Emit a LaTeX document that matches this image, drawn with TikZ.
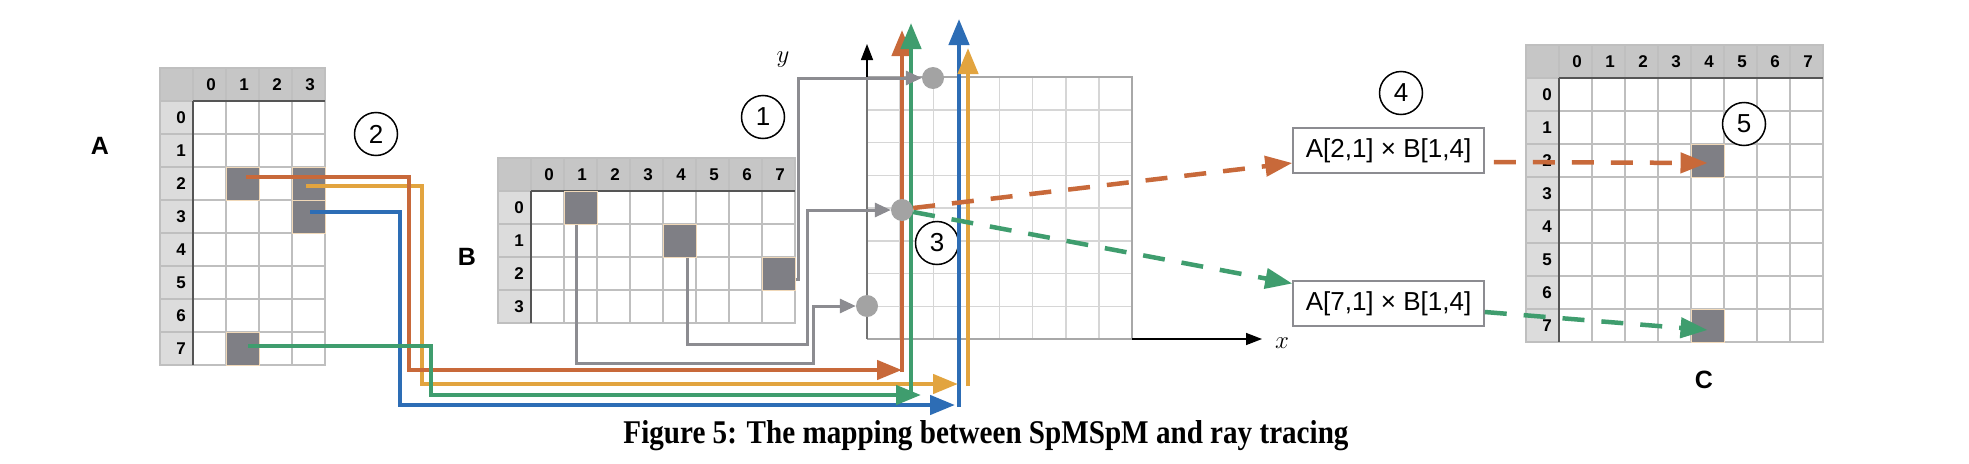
\documentclass[tikz,border=0pt]{standalone}
\usepackage{fontspec}
\usepackage{graphicx}
\setsansfont{Liberation Sans}
\newfontfamily\capfont{Liberation Serif}
\usetikzlibrary{arrows.meta,calc}

\definecolor{corange}{HTML}{C8693A}
\definecolor{cyellow}{HTML}{E2A43F}
\definecolor{cgreen}{HTML}{3F9D6E}
\definecolor{cblue}{HTML}{2D6DB5}
\definecolor{cgray}{HTML}{8C8C91}
\definecolor{dotgray}{HTML}{A3A3A3}
\definecolor{cellgray}{HTML}{7F7F85}
\definecolor{celledge}{HTML}{F0D8B8}
\definecolor{gridcol}{HTML}{BFBFBF}
\definecolor{hdrrow}{HTML}{C6C6C6}
\definecolor{hdrcol}{HTML}{DCDCDC}
\definecolor{sepcol}{HTML}{555555}
\definecolor{rtgrid}{HTML}{D6D6D6}
\definecolor{rtborder}{HTML}{A8A8A8}

\tikzset{
  gridln/.style={draw=gridcol,line width=1.5pt},
  sepln/.style={draw=sepcol,line width=2pt},
  hdrtxt/.style={font=\sffamily\bfseries\fontsize{17}{20}\selectfont,inner sep=0pt},
  nzcell/.style={rectangle,fill=cellgray,draw=celledge,line width=1pt,minimum size=33pt,inner sep=0pt},
  rtgridln/.style={draw=rtgrid,line width=1.5pt},
  rtborderln/.style={draw=rtborder,line width=2pt},
  axisln/.style={draw=black,line width=1.5pt,-{Triangle[length=16pt,width=12pt]}},
  axlabel/.style={font=\fontsize{27}{31}\selectfont,inner sep=0pt},
  dotnode/.style={circle,fill=dotgray,minimum size=22pt,inner sep=0pt},
  numcirc/.style={circle,draw=black,line width=1.5pt,fill=white,minimum size=43pt,inner sep=0pt,font=\sffamily\fontsize{26}{30}\selectfont},
  raylink/.style={line width=4.5pt,-{Triangle[length=25pt,width=19pt]}},
  raystem/.style={line width=4.5pt,-{Triangle[length=26pt,width=20pt]}},
  grayarr/.style={draw=cgray,line width=3pt,-{Triangle[length=16pt,width=14pt]}},
  dasharr/.style={line width=4.5pt,dash pattern=on 22pt off 17pt,-{Triangle[length=27pt,width=20pt]}},
  prodbox/.style={rectangle,draw=cgray,line width=1.5pt,fill=white,minimum width=191pt,minimum height=45pt,inner sep=0pt,font=\sffamily\fontsize{26}{30}\selectfont},
  matlabel/.style={font=\sffamily\bfseries\fontsize{25}{29}\selectfont,inner sep=0pt},
}

\newcommand\drawspmat[4]{%
  \pgfmathsetmacro\mxr{#1+33+33*#3}%
  \pgfmathsetmacro\myb{#2+33+33*#4}%
  \fill[hdrrow] (#1,#2) rectangle (\mxr,#2+33);
  \fill[hdrcol] (#1,#2+33) rectangle (#1+33,\myb);
  \fill[white] (#1+33,#2+33) rectangle (\mxr,\myb);
  \foreach \ii in {0,...,#3}{\draw[gridln] (#1+33+33*\ii,#2) -- (#1+33+33*\ii,\myb);}
  \foreach \jj in {0,...,#4}{\draw[gridln] (#1,#2+33+33*\jj) -- (\mxr,#2+33+33*\jj);}
  \draw[gridln] (#1,#2) rectangle (\mxr,\myb);
  \draw[sepln] (#1+33,#2+33) -- (\mxr,#2+33);
  \draw[sepln] (#1+33,#2+33) -- (#1+33,\myb);
  \foreach \ii in {1,...,#3}{\pgfmathtruncatemacro\kk{\ii-1}\node[hdrtxt] at (#1+33*\ii+18,#2+17) {\kk};}
  \foreach \jj in {1,...,#4}{\pgfmathtruncatemacro\kk{\jj-1}\node[hdrtxt] at (#1+21,#2+33*\jj+17) {\kk};}
}

\begin{document}
\begin{tikzpicture}[x=1pt,y=-1pt]
\useasboundingbox (0,0) rectangle (1969,463);
\fill[white] (0,0) rectangle (1969,463);

% matrices
\drawspmat{160}{68}{4}{8}
\drawspmat{498}{158}{8}{4}
\drawspmat{1526}{45}{8}{8}

% nonzero cells
\node[nzcell] (a21) at (242.5,183.5) {};
\node[nzcell] (a23) at (308.5,183.5) {};
\node[nzcell] (a33) at (308.5,216.5) {};
\node[nzcell] (a71) at (242.5,348.5) {};
\node[nzcell] (b01) at (580.5,207.5) {};
\node[nzcell] (b14) at (679.5,240.5) {};
\node[nzcell] (b27) at (778.5,273.5) {};
\node[nzcell] (c24) at (1707.5,160.5) {};
\node[nzcell] (c74) at (1707.5,325.5) {};

% matrix labels
\node[matlabel] (labA) at (100,146) {A};
\node[matlabel] (labB) at (467,257) {B};
\node[matlabel] (labC) at (1704,380) {C};

% ray tracing grid
\foreach \ii in {1,...,7} {\draw[rtgridln] (867+33.125*\ii,77) -- (867+33.125*\ii,339);}
\foreach \jj in {1,...,7} {\draw[rtgridln] (867,77+32.75*\jj) -- (1132,77+32.75*\jj);}
\draw[rtborderln] (867,77) -- (1132,77) -- (1132,339) -- (867,339);
\draw[draw=black!55,line width=2pt] (867,339) -- (867,77);
\coordinate (yax0) at (867,77);
\coordinate (yax1) at (867,44);
\coordinate (xax0) at (1132,339);
\coordinate (xax1) at (1262,339);
\draw[axisln] (yax0) -- (yax1);
\draw[axisln] (xax0) -- (xax1);
\node[axlabel] (ylab) at (783,60) {$y$};
\node[axlabel] (xlab) at (1282,343) {$x$};

% step circles
\node[numcirc] (s1) at (763,117) {1};
\node[numcirc] (s2) at (376,134) {2};
\node[numcirc] (s3) at (937,243) {3};
\node[numcirc] (s4) at (1401,93) {4};
\node[numcirc] (s5) at (1744,124) {5};

% colored rays
\coordinate (oS) at ($(a21.center)+(3.5,-6.5)$);
\coordinate (yS) at ($(a23.center)+(-2.5,2.5)$);
\coordinate (bS) at ($(a33.center)+(1.5,-4.5)$);
\coordinate (gS) at ($(a71.center)+(5.5,-2.5)$);
\coordinate (oB) at (902,372);
\coordinate (oT) at (902,30);
\coordinate (yB) at (968,386);
\coordinate (yT) at (968,48);
\coordinate (bB) at (959,407);
\coordinate (bT) at (959,19);
\coordinate (gB) at (911,397);
\coordinate (gT) at (911,23);

\draw[raylink,draw=cblue] (bS) -- (400,212) -- (400,405) -- (955,405);
\draw[raystem,draw=cblue] (bB) -- (bT);
\draw[raylink,draw=cyellow] (yS) -- (422,186) -- (422,384) -- (958,384);
\draw[raystem,draw=cyellow] (yB) -- (yT);
\draw[raylink,draw=corange] (oS) -- (409,177) -- (409,370) -- (902,370);
\draw[raystem,draw=corange] (oB) -- (oT);
\draw[raylink,draw=cgreen] (gS) -- (431,346) -- (431,395) -- (921,395);
\draw[raystem,draw=cgreen] (gB) -- (gT);

% dots
\node[dotnode] (d1) at (933,78) {};
\node[dotnode] (d2) at (902,210) {};
\node[dotnode] (d3) at (867,306) {};

% gray links from B
\draw[grayarr] ([yshift=-5.5pt]b27.east) -- (798,279) -- (798,78) -- (d1.west);
\draw[grayarr] ([xshift=7.5pt]b14.south) -- (687,344) -- (807,344) -- (807,210) -- (d2.west);
\draw[grayarr] ([xshift=-4.5pt]b01.south) -- (576,363) -- (813,363) -- (813,306) -- (d3.west);

% product boxes
\node[prodbox] (p1) at (1388.5,150.5) {A[2,1] × B[1,4]};
\node[prodbox] (p2) at (1388.5,303.5) {A[7,1] × B[1,4]};

% dashed arrows
\draw[dasharr,draw=corange] ([yshift=2pt]d2.east) -- ([yshift=-12.5pt]p1.west);
\draw[dasharr,draw=cgreen] ([yshift=-2pt]d2.east) -- ([yshift=20pt]p2.west);
\draw[dasharr,draw=corange] ([xshift=9pt,yshift=-11.5pt]p1.east) -- ([yshift=-2.5pt]c24.center);
\draw[dasharr,draw=cgreen] ([yshift=-8.5pt]p2.east) -- ([yshift=-4.5pt]c74.center);

% caption
\node[inner sep=0pt] (cap) at (986,436) {\resizebox{725pt}{23pt}{\capfont\bfseries\fontsize{24}{28}\selectfont Figure 5: The mapping between SpMSpM and ray tracing}};
\end{tikzpicture}
\end{document}
